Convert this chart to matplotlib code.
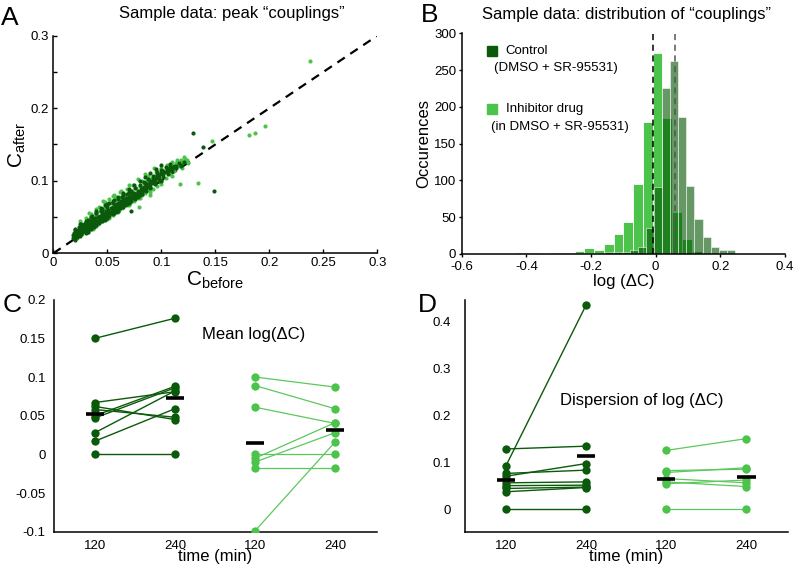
import numpy as np
import matplotlib
matplotlib.use('Agg')
import matplotlib.pyplot as plt

plt.rcParams['font.family'] = ['Liberation Sans', 'DejaVu Sans']
plt.rcParams['mathtext.fontset'] = 'custom'
plt.rcParams['mathtext.rm'] = 'Liberation Sans'
plt.rcParams['mathtext.it'] = 'Liberation Sans:italic'
plt.rcParams['axes.linewidth'] = 1.1

DARK = '#0b5a0b'
LIGHT = '#4cc44c'
LIGHT_LINE = '#5cc85c'

############################ data
# panel A : peak couplings, (C_before, C_after)
ctrl_pts = [
    (0.018, 0.021), (0.018, 0.025), (0.019, 0.028), (0.020, 0.023), (0.020, 0.027), (0.021, 0.030),
    (0.022, 0.024), (0.022, 0.028), (0.023, 0.032), (0.023, 0.026), (0.024, 0.029), (0.025, 0.034),
    (0.025, 0.027), (0.026, 0.031), (0.027, 0.036), (0.027, 0.029), (0.028, 0.033), (0.029, 0.038),
    (0.029, 0.031), (0.030, 0.035), (0.031, 0.040), (0.031, 0.033), (0.032, 0.037), (0.033, 0.042),
    (0.033, 0.035), (0.034, 0.039), (0.035, 0.044), (0.035, 0.037), (0.036, 0.041), (0.037, 0.046),
    (0.037, 0.039), (0.038, 0.043), (0.039, 0.048), (0.039, 0.041), (0.040, 0.045), (0.041, 0.050),
    (0.041, 0.043), (0.042, 0.047), (0.043, 0.052), (0.043, 0.045), (0.044, 0.049), (0.045, 0.054),
    (0.045, 0.047), (0.046, 0.051), (0.047, 0.056), (0.047, 0.049), (0.048, 0.053), (0.049, 0.058),
    (0.049, 0.051), (0.050, 0.055), (0.051, 0.060), (0.051, 0.053), (0.052, 0.057), (0.053, 0.062),
    (0.053, 0.055), (0.054, 0.059), (0.055, 0.064), (0.055, 0.058), (0.056, 0.061), (0.057, 0.066),
    (0.057, 0.060), (0.058, 0.063), (0.059, 0.068), (0.059, 0.062), (0.060, 0.065), (0.061, 0.070),
    (0.061, 0.064), (0.062, 0.067), (0.063, 0.072), (0.063, 0.066), (0.064, 0.069), (0.065, 0.074),
    (0.066, 0.068), (0.066, 0.072), (0.067, 0.076), (0.068, 0.071), (0.069, 0.074), (0.070, 0.078),
    (0.070, 0.073), (0.071, 0.076), (0.072, 0.080), (0.073, 0.076), (0.074, 0.079), (0.075, 0.083),
    (0.076, 0.079), (0.077, 0.082), (0.078, 0.086), (0.079, 0.082), (0.080, 0.085), (0.081, 0.089),
    (0.082, 0.085), (0.083, 0.088), (0.084, 0.092), (0.085, 0.089), (0.086, 0.092), (0.087, 0.096),
    (0.088, 0.093), (0.089, 0.096), (0.090, 0.100), (0.091, 0.097), (0.092, 0.100), (0.093, 0.104),
    (0.094, 0.101), (0.095, 0.104), (0.096, 0.108), (0.097, 0.105), (0.098, 0.108), (0.100, 0.111),
    (0.101, 0.109), (0.102, 0.113), (0.104, 0.112), (0.105, 0.116), (0.107, 0.115), (0.108, 0.119),
    (0.110, 0.118), (0.112, 0.121), (0.114, 0.120), (0.116, 0.124), (0.118, 0.122), (0.121, 0.126),
    (0.030, 0.043), (0.036, 0.048), (0.044, 0.058), (0.050, 0.064), (0.045, 0.060), (0.050, 0.068),
    (0.055, 0.070), (0.040, 0.055), (0.035, 0.050), (0.060, 0.075), (0.065, 0.080), (0.070, 0.084),
    (0.048, 0.046), (0.058, 0.057), (0.068, 0.068), (0.078, 0.078), (0.026, 0.040), (0.032, 0.030),
    (0.038, 0.036), (0.072, 0.0587), (0.085, 0.097), (0.092, 0.107),
    (0.020, 0.032), (0.024, 0.036), (0.028, 0.041), (0.032, 0.046), (0.036, 0.052), (0.040, 0.058),
    (0.044, 0.062), (0.048, 0.066), (0.052, 0.070), (0.056, 0.074), (0.060, 0.070), (0.064, 0.077),
    (0.068, 0.082), (0.072, 0.086), (0.076, 0.090), (0.080, 0.094), (0.084, 0.098), (0.088, 0.102),
    (0.092, 0.104), (0.096, 0.112), (0.100, 0.115), (0.104, 0.119), (0.108, 0.123),
    (0.022, 0.022), (0.026, 0.026), (0.030, 0.031), (0.034, 0.034), (0.038, 0.038), (0.042, 0.042),
    (0.046, 0.046), (0.052, 0.052), (0.056, 0.056), (0.062, 0.062), (0.066, 0.066), (0.072, 0.072),
    (0.076, 0.075), (0.082, 0.082), (0.086, 0.086), (0.090, 0.091), (0.094, 0.095), (0.098, 0.100),
    (0.102, 0.105), (0.106, 0.109), (0.110, 0.113), (0.114, 0.117), (0.118, 0.120),
    (0.021, 0.026), (0.024, 0.032), (0.028, 0.036), (0.033, 0.038), (0.037, 0.043), (0.042, 0.050),
    (0.046, 0.054), (0.050, 0.058), (0.054, 0.062), (0.058, 0.066), (0.062, 0.070), (0.066, 0.075),
    (0.070, 0.076), (0.074, 0.082), (0.078, 0.084), (0.082, 0.090), (0.086, 0.094), (0.090, 0.096),
    (0.094, 0.098), (0.098, 0.104), (0.102, 0.109), (0.106, 0.113), (0.110, 0.116),
    (0.020, 0.034), (0.025, 0.040), (0.030, 0.045), (0.035, 0.050), (0.040, 0.056), (0.045, 0.061),
    (0.050, 0.067), (0.055, 0.072), (0.060, 0.078), (0.065, 0.083), (0.070, 0.089), (0.075, 0.094),
    (0.080, 0.100), (0.085, 0.105), (0.090, 0.111), (0.095, 0.116), (0.100, 0.122),
    (0.020, 0.019), (0.025, 0.024), (0.030, 0.028), (0.035, 0.034), (0.040, 0.039), (0.045, 0.044),
    (0.050, 0.048), (0.055, 0.054), (0.060, 0.059), (0.065, 0.064), (0.070, 0.070), (0.080, 0.080),
    (0.090, 0.090), (0.100, 0.100),
    (0.1296, 0.166), (0.149, 0.0863), (0.139, 0.147),
]
drug_pts = [
    (0.020, 0.030), (0.022, 0.021), (0.025, 0.035), (0.027, 0.026), (0.030, 0.042), (0.032, 0.030),
    (0.035, 0.047), (0.037, 0.034), (0.040, 0.053), (0.041, 0.040), (0.043, 0.058), (0.045, 0.044),
    (0.047, 0.062), (0.049, 0.050), (0.050, 0.066), (0.052, 0.048), (0.053, 0.070), (0.055, 0.053),
    (0.057, 0.073), (0.058, 0.058), (0.060, 0.076), (0.061, 0.060), (0.063, 0.078), (0.064, 0.062),
    (0.066, 0.080), (0.068, 0.066), (0.070, 0.083), (0.071, 0.069), (0.073, 0.086), (0.075, 0.072),
    (0.077, 0.090), (0.078, 0.076), (0.080, 0.093), (0.082, 0.080), (0.084, 0.097), (0.085, 0.083),
    (0.087, 0.100), (0.089, 0.087), (0.090, 0.103), (0.092, 0.088), (0.094, 0.106), (0.096, 0.093),
    (0.098, 0.109), (0.100, 0.100), (0.102, 0.113), (0.104, 0.104), (0.106, 0.117), (0.108, 0.109),
    (0.110, 0.121), (0.112, 0.114), (0.114, 0.124), (0.116, 0.120), (0.118, 0.128), (0.120, 0.126),
    (0.122, 0.130), (0.124, 0.128), (0.125, 0.124), (0.119, 0.118), (0.113, 0.118), (0.107, 0.112),
    (0.046, 0.072), (0.052, 0.075), (0.058, 0.078), (0.064, 0.064), (0.079, 0.064), (0.090, 0.080),
    (0.030, 0.048), (0.035, 0.054), (0.042, 0.064), (0.048, 0.070), (0.056, 0.080), (0.062, 0.084),
    (0.068, 0.088), (0.074, 0.094), (0.082, 0.100), (0.088, 0.106), (0.095, 0.112), (0.100, 0.118),
    (0.105, 0.122), (0.110, 0.126), (0.115, 0.129), (0.121, 0.133), (0.123, 0.127),
    (0.040, 0.038), (0.050, 0.047), (0.060, 0.057), (0.070, 0.066), (0.080, 0.076), (0.090, 0.085),
    (0.100, 0.096), (0.110, 0.106),
    (0.025, 0.045), (0.033, 0.055), (0.040, 0.061), (0.048, 0.071), (0.055, 0.079), (0.063, 0.086),
    (0.070, 0.094), (0.078, 0.102), (0.085, 0.110), (0.093, 0.118),
    (0.238, 0.265), (0.196, 0.1755), (0.1867, 0.1655), (0.1815, 0.163), (0.147, 0.155),
    (0.134, 0.097), (0.117, 0.095),
]

# panel B : histogram of log(dC), counts per bin
ctrl_bin_lo, ctrl_bin_w = -0.431, 0.02504
ctrl_counts = [2, 2, 1, 0, 1, 1, 1, 1, 1, 2, 2, 3, 3, 3, 6, 9, 35, 91, 225, 262,
               186, 93, 47, 23, 9, 5, 5]
drug_bin_lo, drug_bin_w = -0.432, 0.0302
drug_counts = [2, 1, 0, 1, 1, 2, 4, 8, 6, 14, 27, 43, 95, 179, 273, 185, 57, 20, 4, 2, 1]
drug_mean_line = -0.009
ctrl_mean_line = 0.059

# panels C and D : per-experiment values at 120 and 240 min
time_labels = ['120', '240', '120', '240']
meanC_ctrl_120 = [0.150, 0.067, 0.062, 0.058, 0.050, 0.047, 0.028, 0.017, 0.000]
meanC_ctrl_240 = [0.176, 0.081, 0.045, 0.048, 0.088, 0.086, 0.082, 0.059, 0.000]
meanC_drug_120 = [0.100, 0.089, 0.061, 0.000, -0.005, -0.010, -0.018, -0.099]
meanC_drug_240 = [0.087, 0.059, 0.040, 0.000, 0.041, 0.028, -0.018, 0.016]
meanC_bars = [0.052, 0.0724, 0.0151, 0.0315]

disp_ctrl_120 = [0.128, 0.092, 0.076, 0.070, 0.056, 0.050, 0.044, 0.037, 0.000]
disp_ctrl_240 = [0.134, 0.434, 0.083, 0.097, 0.058, 0.051, 0.047, 0.046, 0.000]
disp_drug_120 = [0.125, 0.082, 0.078, 0.065, 0.058, 0.054, 0.000]
disp_drug_240 = [0.150, 0.085, 0.088, 0.056, 0.048, 0.062, 0.000]
disp_bars = [0.0617, 0.1135, 0.065, 0.0674]
############################

f = plt.figure(figsize=(7.96, 5.68), dpi=100)
W, H = 796., 568.

def box(l, t, r, b):
    return [l / W, 1 - b / H, (r - l) / W, (b - t) / H]

axA = f.add_axes(box(53.3, 35.7, 377.3, 253.3))
axB = f.add_axes(box(461.7, 33.3, 785, 254))
axC = f.add_axes(box(54, 299.7, 376.7, 531.7))
axD = f.add_axes(box(465, 300, 788, 531.7))

for ax in (axA, axB, axC, axD):
    ax.spines['top'].set_visible(False)
    ax.spines['right'].set_visible(False)

# ---------- A
cp = np.array(ctrl_pts)
dp = np.array(drug_pts)
axA.plot([0, 0.3], [0, 0.3], color='k', ls='--', dashes=(4, 3), lw=1.6, zorder=1)
axA.plot(dp[:, 0], dp[:, 1], 'o', ms=3.0, mew=0, color=LIGHT, zorder=2)
axA.plot(cp[:, 0], cp[:, 1], 'o', ms=3.0, mew=0, color=DARK, zorder=3)
axA.set_xlim(0, 0.3)
axA.set_ylim(0, 0.3)
axA.set_xticks([0, 0.05, 0.1, 0.15, 0.2, 0.25, 0.3])
axA.set_xticklabels(['0', '0.05', '0.1', '0.15', '0.2', '0.25', '0.3'])
axA.set_yticks([0, 0.05, 0.1, 0.15, 0.2, 0.25, 0.3])
axA.set_yticklabels(['0', '', '0.1', '', '0.2', '', '0.3'])
axA.tick_params(direction='in', length=3, width=1, labelsize=9.5, pad=3)
axA.set_xlabel(r'$\mathrm{C}_{\mathrm{before}}$', fontsize=15, labelpad=0)
axA.set_ylabel(r'$\mathrm{C}_{\mathrm{after}}$', fontsize=15, labelpad=2)

# ---------- B
ce = ctrl_bin_lo + ctrl_bin_w * np.arange(len(ctrl_counts))
de = drug_bin_lo + drug_bin_w * np.arange(len(drug_counts))
axB.bar(de, drug_counts, width=drug_bin_w, align='edge', color=LIGHT,
        edgecolor='white', linewidth=0.6)
axB.bar(ce, ctrl_counts, width=ctrl_bin_w, align='edge', color='#005400',
        alpha=0.6, edgecolor='white', linewidth=0.6)
axB.axvline(drug_mean_line, color='k', ls='--', dashes=(4, 3), lw=1.1)
axB.axvline(ctrl_mean_line, color='#555555', ls='--', dashes=(4, 3), lw=1.1)
axB.set_xlim(-0.6, 0.4)
axB.set_ylim(0, 300)
axB.set_xticks([-0.6, -0.4, -0.2, 0, 0.2, 0.4])
axB.set_xticklabels(['-0.6', '-0.4', '-0.2', '0', '0.2', '0.4'])
axB.set_yticks(range(0, 301, 50))
axB.tick_params(direction='out', length=2.5, width=1, labelsize=9.5, pad=1.5)
axB.tick_params(axis='x', pad=2.5)
axB.set_xlabel('log (ΔC)', fontsize=12, labelpad=1)
axB.set_ylabel('Occurences', fontsize=12, labelpad=2)
axB.plot([0.095], [0.92], 's', ms=6.5, color=DARK, transform=axB.transAxes)
axB.text(0.134, 0.92, 'Control', transform=axB.transAxes, fontsize=9.5, va='center')
axB.text(0.100, 0.843, '(DMSO + SR-95531)', transform=axB.transAxes, fontsize=9.5, va='center')
axB.plot([0.095], [0.657], 's', ms=6.5, color=LIGHT, transform=axB.transAxes)
axB.text(0.137, 0.657, 'Inhibitor drug', transform=axB.transAxes, fontsize=9.5, va='center')
axB.text(0.091, 0.575, '(in DMSO + SR-95531)', transform=axB.transAxes, fontsize=9.5, va='center')

# ---------- C and D
def paired(ax, ctrl_a, ctrl_b, drug_a, drug_b, bars):
    for a, b in zip(ctrl_a, ctrl_b):
        ax.plot([1, 2], [a, b], '-', color=DARK, lw=1.0, zorder=2)
    for a, b in zip(drug_a, drug_b):
        ax.plot([3, 4], [a, b], '-', color=LIGHT_LINE, lw=0.9, zorder=2)
    ax.plot([1] * len(ctrl_a), ctrl_a, 'o', ms=6, mew=0, color=DARK, zorder=3)
    ax.plot([2] * len(ctrl_b), ctrl_b, 'o', ms=6, mew=0, color=DARK, zorder=3)
    ax.plot([3] * len(drug_a), drug_a, 'o', ms=6, mew=0, color=LIGHT, zorder=3)
    ax.plot([4] * len(drug_b), drug_b, 'o', ms=6, mew=0, color=LIGHT, zorder=3)
    pos = np.arange(1, 5)
    ax.hlines(bars, pos - 0.115, pos + 0.115, color='k', lw=2.6, zorder=4)
    ax.set_xticks(pos)
    ax.set_xticklabels(time_labels)
    ax.set_xlim(0.49, 4.52)
    ax.set_xlabel('time (min)', fontsize=12, labelpad=-2)

paired(axC, meanC_ctrl_120, meanC_ctrl_240, meanC_drug_120, meanC_drug_240, meanC_bars)
axC.set_ylim(-0.1, 0.2)
axC.set_yticks([-0.1, -0.05, 0, 0.05, 0.1, 0.15, 0.2])
axC.set_yticklabels(['-0.1', '-0.05', '0', '0.05', '0.1', '0.15', '0.2'])
axC.tick_params(length=0, labelsize=9.5, pad=6)
axC.text(0.618, 0.848, 'Mean log(ΔC)', transform=axC.transAxes, fontsize=12,
         ha='center', va='center')

paired(axD, disp_ctrl_120, disp_ctrl_240, disp_drug_120, disp_drug_240, disp_bars)
axD.set_ylim(-0.048, 0.445)
axD.set_yticks([0, 0.1, 0.2, 0.3, 0.4])
axD.set_yticklabels(['0', '0.1', '0.2', '0.3', '0.4'])
axD.tick_params(length=0, labelsize=9.5, pad=10)
axD.tick_params(axis='x', pad=6)
axD.text(0.547, 0.568, 'Dispersion of log (ΔC)', transform=axD.transAxes, fontsize=12,
         ha='center', va='center')

# ---------- titles and panel letters
f.text(119 / W, 1 - 18 / H, 'Sample data: peak “couplings”', fontsize=12, va='baseline')
f.text(481.7 / W, 1 - 19.5 / H, 'Sample data: distribution of “couplings”', fontsize=12,
       va='baseline')
for lab, x, y in [('A', 1, 25), ('B', 421, 22), ('C', 3, 312), ('D', 418, 312)]:
    f.text(x / W, 1 - y / H, lab, fontsize=19, va='baseline')

f.savefig('out.png', dpi=100)
